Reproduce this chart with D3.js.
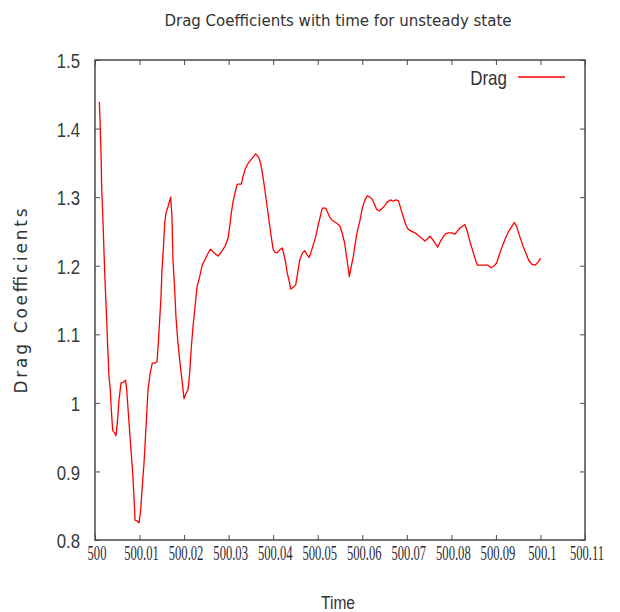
<!DOCTYPE html>
<html>
<head>
<meta charset="utf-8">
<script src="https://cdn.jsdelivr.net/npm/d3@7"></script>
<style>
  body { margin: 0; background: #fff; }
  svg { display: block; }
</style>
</head>
<body>
<svg id="chart" width="620" height="612"></svg>
<script>
// values
var times = [500.00097, 500.00112, 500.00135, 500.00150, 500.00180, 500.00202, 500.00218, 500.00240, 500.00263, 500.00285,
  500.00314, 500.00343, 500.00366, 500.00397, 500.00442, 500.00471, 500.00501, 500.00539, 500.00584, 500.00635,
  500.00689, 500.00712, 500.00756, 500.00808, 500.00846, 500.00875, 500.00898, 500.00943, 500.00988, 500.01026,
  500.01055, 500.01100, 500.01129, 500.01160, 500.01190, 500.01241, 500.01286, 500.01340, 500.01392, 500.01421,
  500.01452, 500.01481, 500.01504, 500.01533, 500.01565, 500.01594, 500.01639, 500.01699, 500.01728, 500.01751,
  500.01789, 500.01818, 500.01863, 500.01908, 500.01953, 500.01998, 500.02043, 500.02088, 500.02126, 500.02162,
  500.02200, 500.02238, 500.02290, 500.02350, 500.02409, 500.02462, 500.02521, 500.02588, 500.02671, 500.02761,
  500.02835, 500.02925, 500.02985, 500.03024, 500.03059, 500.03098, 500.03149, 500.03194, 500.03284, 500.03322,
  500.03374, 500.03434, 500.03508, 500.03607, 500.03675, 500.03720, 500.03771, 500.03823, 500.03883, 500.03944,
  500.03973, 500.04002, 500.04047, 500.04092, 500.04146, 500.04204, 500.04242, 500.04281, 500.04316, 500.04355,
  500.04393, 500.04444, 500.04505, 500.04541, 500.04595, 500.04653, 500.04707, 500.04752, 500.04804, 500.04842,
  500.04893, 500.04954, 500.05012, 500.05066, 500.05102, 500.05178, 500.05214, 500.05268, 500.05327, 500.05425,
  500.05499, 500.05551, 500.05605, 500.05641, 500.05679, 500.05708, 500.05753, 500.05798, 500.05843, 500.05888,
  500.05942, 500.06000, 500.06061, 500.06112, 500.06173, 500.06224, 500.06278, 500.06323, 500.06391, 500.06435,
  500.06487, 500.06548, 500.06637, 500.06696, 500.06756, 500.06808, 500.06862, 500.06920, 500.06981, 500.07033,
  500.07109, 500.07183, 500.07257, 500.07333, 500.07407, 500.07459, 500.07520, 500.07580, 500.07632, 500.07692,
  500.07744, 500.07805, 500.07863, 500.07930, 500.08007, 500.08081, 500.08132, 500.08193, 500.08254, 500.08305,
  500.08357, 500.08418, 500.08478, 500.08530, 500.08582, 500.08703, 500.08815, 500.08889, 500.08963, 500.09017,
  500.09075, 500.09152, 500.09226, 500.09286, 500.09345, 500.09412, 500.09466, 500.09524, 500.09601, 500.09675,
  500.09735, 500.09809, 500.09884, 500.09960, 500.10000]

var drag = [1.439, 1.413, 1.364, 1.315, 1.264, 1.220, 1.191, 1.155, 1.121, 1.082,
  1.038, 1.019, 0.990, 0.960, 0.956, 0.952, 0.971, 1.004, 1.029, 1.030,
  1.033, 1.019, 0.978, 0.931, 0.898, 0.863, 0.829, 0.828, 0.825, 0.844,
  0.873, 0.912, 0.946, 0.982, 1.019, 1.044, 1.058, 1.058, 1.060, 1.087,
  1.121, 1.154, 1.194, 1.223, 1.262, 1.277, 1.286, 1.300, 1.271, 1.208,
  1.165, 1.125, 1.087, 1.058, 1.033, 1.006, 1.014, 1.019, 1.044, 1.081,
  1.111, 1.135, 1.169, 1.184, 1.201, 1.208, 1.216, 1.224, 1.219, 1.214,
  1.220, 1.229, 1.240, 1.257, 1.276, 1.293, 1.308, 1.319, 1.319, 1.330,
  1.341, 1.349, 1.355, 1.363, 1.358, 1.349, 1.330, 1.306, 1.277, 1.248,
  1.235, 1.223, 1.219, 1.219, 1.223, 1.226, 1.216, 1.204, 1.189, 1.179,
  1.166, 1.168, 1.172, 1.186, 1.208, 1.218, 1.222, 1.217, 1.212, 1.218,
  1.229, 1.242, 1.260, 1.274, 1.284, 1.284, 1.279, 1.271, 1.266, 1.262,
  1.258, 1.247, 1.233, 1.216, 1.199, 1.184, 1.199, 1.213, 1.233, 1.250,
  1.264, 1.284, 1.296, 1.302, 1.300, 1.297, 1.289, 1.282, 1.280, 1.283,
  1.286, 1.292, 1.296, 1.294, 1.296, 1.295, 1.284, 1.271, 1.259, 1.253,
  1.250, 1.248, 1.244, 1.240, 1.236, 1.239, 1.243, 1.238, 1.233, 1.227,
  1.234, 1.241, 1.246, 1.248, 1.248, 1.246, 1.250, 1.255, 1.258, 1.260,
  1.250, 1.235, 1.222, 1.211, 1.201, 1.201, 1.201, 1.197, 1.200, 1.204,
  1.216, 1.230, 1.242, 1.250, 1.256, 1.263, 1.257, 1.245, 1.230, 1.218,
  1.208, 1.202, 1.201, 1.206, 1.211]

var xTicks = [500, 500.01, 500.02, 500.03, 500.04, 500.05, 500.06, 500.07, 500.08, 500.09, 500.1, 500.11]
var xTickLabels = ["500", "500.01", "500.02", "500.03", "500.04", "500.05", "500.06", "500.07", "500.08", "500.09", "500.1", "500.11"]
var yTicks = [0.8, 0.9, 1.0, 1.1, 1.2, 1.3, 1.4, 1.5]
var yTickLabels = ["0.8", "0.9", "1", "1.1", "1.2", "1.3", "1.4", "1.5"]

var title = "Drag Coefficients with time for unsteady state"
var xTitle = "Time"
var yTitle = "Drag Coefficients"
var seriesName = "Drag"

var margin = {top: 60, right: 35, bottom: 72, left: 95}
var width = 620 - margin.left - margin.right
var height = 612 - margin.top - margin.bottom

var svg = d3.select("#chart")
var g = svg.append("g").attr("transform", "translate(" + margin.left + "," + margin.top + ")")

var x = d3.scaleLinear().domain([500, 500.11]).range([0, width])
var y = d3.scaleLinear().domain([0.8, 1.5]).range([height, 0])

var frameColor = "#4a4a4a"
var textColor = "#333"

// bottom axis with inside ticks, squeezed serif labels
var xAxisBottom = g.append("g").attr("transform", "translate(0," + height + ")")
  .call(d3.axisBottom(x).tickValues(xTicks).tickSize(-5).tickFormat(function(d, i) { return xTickLabels[i] }))
xAxisBottom.select(".domain").remove()
xAxisBottom.selectAll("line").attr("stroke", frameColor)
xAxisBottom.selectAll("text")
  .attr("y", 0).attr("dy", 0)
  .attr("transform", "translate(1.5,20) scale(0.6,1)")
  .attr("fill", "#2b2b3a")
  .style("font-family", "'Liberation Serif', serif")
  .style("font-size", "21px")

// mirror ticks on top
var xAxisTop = g.append("g").call(d3.axisTop(x).tickValues(xTicks).tickSize(-5).tickFormat(""))
xAxisTop.select(".domain").remove()
xAxisTop.selectAll("line").attr("stroke", frameColor)

// left axis
var yAxisLeft = g.append("g")
  .call(d3.axisLeft(y).tickValues(yTicks).tickSize(-5).tickFormat(function(d, i) { return yTickLabels[i] }))
yAxisLeft.select(".domain").remove()
yAxisLeft.selectAll("line").attr("stroke", frameColor)
yAxisLeft.selectAll("text")
  .attr("x", 0).attr("dy", "0.36em")
  .attr("transform", "translate(-15,0) scale(0.8,1)")
  .attr("fill", "#3a3a3a")
  .style("font-family", "'Liberation Sans', sans-serif")
  .style("font-size", "21px")

// mirror ticks on right
var yAxisRight = g.append("g").attr("transform", "translate(" + width + ",0)")
  .call(d3.axisRight(y).tickValues(yTicks).tickSize(-5).tickFormat(""))
yAxisRight.select(".domain").remove()
yAxisRight.selectAll("line").attr("stroke", frameColor)

// frame
g.append("rect")
  .attr("width", width).attr("height", height)
  .attr("fill", "none").attr("stroke", frameColor).attr("stroke-width", 1.5)

// the curve
var pts = times.map(function(t, i) { return [t, drag[i]] })
var line = d3.line().x(function(d) { return x(d[0]) }).y(function(d) { return y(d[1]) })
g.append("path")
  .datum(pts)
  .attr("d", line)
  .attr("fill", "none")
  .attr("stroke", "#ff0000")
  .attr("stroke-width", 1.3)
  .attr("stroke-linejoin", "round")

// legend
var legend = g.append("g").attr("transform", "translate(" + (width - 78) + ",17)")
legend.append("text")
  .attr("transform", "translate(0,8) scale(0.85,1)")
  .attr("text-anchor", "end")
  .attr("fill", textColor)
  .style("font-family", "'Liberation Sans', sans-serif")
  .style("font-size", "20px")
  .text(seriesName)
legend.append("line")
  .attr("x1", 11).attr("x2", 58)
  .attr("stroke", "#ff0000").attr("stroke-width", 1.5)

// titles
svg.append("text")
  .attr("x", 338).attr("y", 26)
  .attr("text-anchor", "middle")
  .attr("fill", textColor)
  .style("font-family", "'DejaVu Sans', sans-serif")
  .style("font-size", "15px")
  .text(title)

svg.append("text")
  .attr("transform", "translate(338,609) scale(0.82,1)")
  .attr("text-anchor", "middle")
  .attr("fill", textColor)
  .style("font-family", "'Liberation Sans', sans-serif")
  .style("font-size", "19px")
  .text(xTitle)

svg.append("text")
  .attr("transform", "translate(27,301) rotate(-90)")
  .attr("text-anchor", "middle")
  .attr("fill", textColor)
  .attr("textLength", 185)
  .attr("lengthAdjust", "spacing")
  .style("font-family", "'DejaVu Sans', sans-serif")
  .style("font-size", "17px")
  .text(yTitle)
</script>
</body>
</html>
